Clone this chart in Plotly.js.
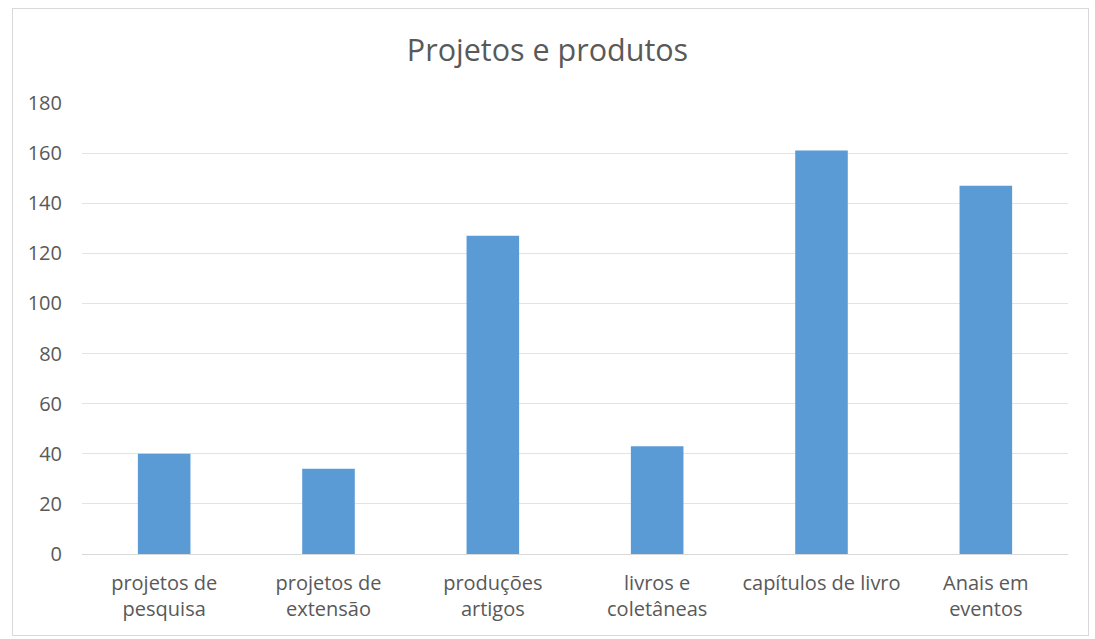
<!DOCTYPE html>
<html>
<head>
<meta charset="utf-8">
<script src="https://cdn.plot.ly/plotly-3.0.1.min.js"></script>
<style>
  html, body { margin: 0; padding: 0; background: #ffffff; }
  #frame { position: absolute; left: 12px; top: 8px; width: 1075px; height: 626px; border: 1px solid #d9d9d9; }
  #chart { position: absolute; left: 0; top: 0; width: 1095px; height: 639px; }
</style>
</head>
<body>
<div id="frame"></div>
<div id="chart"></div>
<script>
const categories = [
  'projetos de<br>pesquisa',
  'projetos de<br>extensão',
  'produções<br>artigos',
  'livros e<br>coletâneas',
  'capítulos de livro',
  'Anais em<br>eventos'
];
const values = [40, 34, 127, 43, 161, 147];
const yTicks = [0, 20, 40, 60, 80, 100, 120, 140, 160, 180];

const fontFamily = '"Open Sans", Lato, sans-serif';

Plotly.newPlot('chart', [{
  type: 'bar',
  x: categories,
  y: values,
  marker: { color: '#5b9bd5' },
  hoverinfo: 'x+y'
}], {
  width: 1095,
  height: 639,
  paper_bgcolor: 'rgba(0,0,0,0)',
  plot_bgcolor: 'rgba(0,0,0,0)',
  margin: { l: 82, r: 27, t: 103, b: 85 },
  bargap: 0.68,
  showlegend: false,
  title: {
    text: 'Projetos e produtos',
    font: { family: fontFamily, size: 30.5, color: '#595959' },
    x: 0.5, xanchor: 'center',
    y: 1 - 50 / 639, yanchor: 'middle'
  },
  xaxis: {
    type: 'category',
    showgrid: false,
    showline: true,
    linecolor: '#d9d9d9',
    linewidth: 1,
    ticks: '',
    ticklabelstandoff: 11,
    tickfont: { family: fontFamily, size: 20, color: '#595959' },
    fixedrange: true
  },
  yaxis: {
    range: [0, 180],
    tickvals: yTicks,
    ticktext: yTicks.map(String),
    showgrid: true,
    gridcolor: '#e3e3e3',
    gridwidth: 1,
    zeroline: false,
    showline: false,
    ticks: '',
    ticklabelstandoff: 19,
    tickfont: { family: fontFamily, size: 20, color: '#595959' },
    fixedrange: true
  }
}, { displayModeBar: false, staticPlot: true });
</script>
</body>
</html>
